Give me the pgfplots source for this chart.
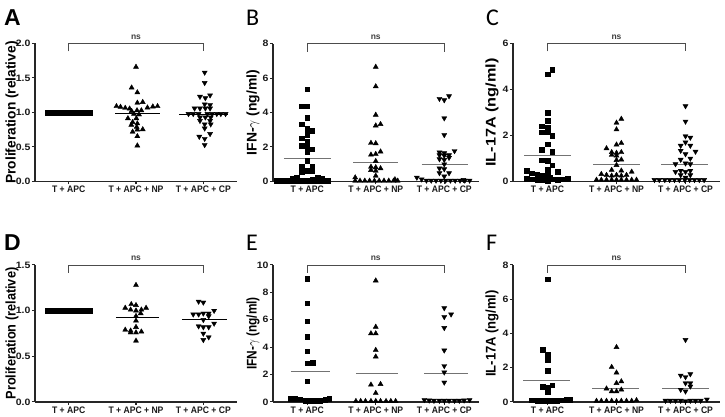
\documentclass[border=0pt]{standalone}
\usepackage{fontspec}
\setmainfont{Liberation Sans}
\newfontfamily\carlito{Carlito}
\usepackage{pgfplots}
\pgfplotsset{compat=1.18}

\tikzset{
  bracket/.style={line width=0.8pt, black!70},
  nslabel/.style={font=\bfseries\fontsize{8.5}{8.5}\selectfont, black!75, anchor=base},
}
\pgfplotsset{
  panel/.style={
    scale only axis, height=138pt,
    xmin=-0.5, xmax=2.5, ymin=0,
    axis x line*=bottom, axis y line*=left,
    axis line style={line width=1.1pt, black!85},
    xtick={0,1,2},
    xticklabels={T + APC, T + APC + NP, T + APC + CP},
    tick align=outside, major tick length=3pt,
    tick style={line width=1pt, black!85},
    /pgf/number format/assume math mode=true,
    ticklabel style={black!90},
    xticklabel style={font=\bfseries\fontsize{8.6}{8.6}\selectfont, yscale=1.1, inner sep=1.5pt},
    yticklabel style={font=\bfseries\fontsize{8.4}{8.4}\selectfont, inner sep=1pt, xscale=1.25, yscale=1.1},
    label style={font=\bfseries\fontsize{14}{14}\selectfont},
    clip=false,
  },
  sq/.style={only marks, mark=square*, mark size=2.3pt, black},
  up/.style={only marks, mark=triangle*, mark size=2.9pt, black},
  dn/.style={only marks, mark=triangle*, mark size=2.9pt, black, mark options={rotate=180}},
  mean/.style={no markers, line width=1pt, black!55},
  meanb/.style={no markers, line width=0.9pt, black},
}

\newcommand{\ns}[1]{%
  \draw[bracket] ([yshift=-8pt]axis cs:0,#1) -- (axis cs:0,#1) -- (axis cs:2,#1) -- ([yshift=-8pt]axis cs:2,#1);
  \node[nslabel] at ([yshift=4pt]axis cs:1,#1) {ns};
}

\begin{document}
\begin{tikzpicture}[x=1pt,y=1pt]
\path[use as bounding box] (0,0) rectangle (725,417);

% ---------------- A: proliferation, cohort 1 ----------------
\begin{axis}[panel, at={(35pt,235.5pt)}, anchor=south west, width=202pt,
  ymax=2, ytick={0,0.5,1,1.5,2},
  yticklabel style={/pgf/number format/.cd, fixed, fixed zerofill, precision=1},
  ylabel={\scalebox{0.984}[1]{Proliferation (relative)}},
  ylabel style={at={(axis description cs:-0.114,0.5)}, anchor=center}]
\addplot[sq] table {
x y
-0.31 1
-0.28 1
-0.25 1
-0.22 1
-0.19 1
-0.16 1
-0.13 1
-0.10 1
-0.07 1
-0.04 1
-0.01 1
0.02 1
0.05 1
0.08 1
0.11 1
0.14 1
0.17 1
0.20 1
0.23 1
0.26 1
0.29 1
0.32 1
};
\addplot[up] table {
x y
1.00 1.66
0.935 1.36
1.02 1.29
1.02 1.14
1.10 1.15
0.71 1.09
0.77 1.08
0.84 1.065
0.905 1.055
1.25 1.085
1.32 1.09
1.17 1.07
0.935 1.02
1.015 1.03
1.08 1.03
0.97 0.98
1.045 0.97
0.88 0.915
1.005 0.915
0.95 0.86
1.02 0.84
0.93 0.82
1.01 0.79
0.95 0.72
1.02 0.75
1.10 0.755
1.02 0.655
1.02 0.52
};
\addplot[meanb] coordinates {(0.69,0.99) (1.36,0.99)};
\addplot[dn] table {
x y
2.02 1.58
2.02 1.43
1.95 1.23
2.03 1.21
2.10 1.25
2.02 1.12
2.10 1.11
1.87 1.06
1.95 1.06
2.03 1.06
2.10 1.06
1.78 0.98
1.85 0.98
1.93 0.98
2.06 0.98
2.13 0.98
2.20 0.98
2.26 0.98
2.33 0.98
1.95 0.93
2.03 0.93
2.11 0.93
1.95 0.88
2.10 0.88
2.02 0.83
2.11 0.83
2.02 0.77
2.10 0.69
1.94 0.65
2.02 0.62
2.02 0.53
};
\addplot[meanb] coordinates {(1.64,0.978) (2.36,0.978)};
\ns{2}
\end{axis}

% ---------------- B: IFN-gamma, cohort 1 ----------------
\begin{axis}[panel, at={(273pt,235.5pt)}, anchor=south west, width=205.5pt,
  ymax=8, ytick={0,2,4,6,8},
  ylabel={\scalebox{0.994}[1]{IFN-$\gamma$ (ng/ml)}},
  ylabel style={at={(axis description cs:-0.097,0.5)}, anchor=center}]
\addplot[sq] table {
x y
0.00 5.34
-0.08 4.37
0.00 4.37
0.00 3.71
-0.08 3.32
0.00 3.07
0.07 2.93
-0.08 2.50
0.00 2.70
0.00 2.31
-0.08 2.06
0.00 2.00
0.07 1.88
0.00 1.69
0.00 1.20
-0.08 0.87
0.07 0.87
-0.08 0.56
0.00 0.62
0.07 0.62
-0.15 0.23
-0.22 0.17
0.15 0.23
0.22 0.17
0.07 0.13
-0.45 0.04
-0.37 0.04
-0.30 0.04
-0.22 0.04
-0.15 0.04
-0.07 0.04
0.00 0.04
0.07 0.04
0.15 0.04
0.22 0.04
0.30 0.04
};
\addplot[mean] coordinates {(-0.34,1.34) (0.34,1.34)};
\addplot[up] table {
x y
1.00 6.64
1.00 5.51
1.00 3.86
1.00 3.24
1.07 3.32
0.93 2.23
1.00 2.21
1.07 1.73
0.93 1.55
1.00 1.59
1.00 1.18
0.93 0.85
1.00 0.82
1.07 0.76
0.93 0.66
1.00 0.62
1.00 0.33
0.70 0.23
1.28 0.12
0.70 0.04
0.77 0.04
0.84 0.04
0.91 0.04
0.98 0.04
1.05 0.04
1.12 0.04
1.19 0.04
1.26 0.04
1.32 0.04
};
\addplot[mean] coordinates {(0.67,1.09) (1.33,1.09)};
\addplot[dn] table {
x y
1.93 4.80
2.00 4.72
2.07 4.95
2.00 3.67
2.00 2.70
1.93 1.69
2.00 1.65
2.15 1.77
1.93 1.53
2.00 1.50
2.07 1.53
1.93 1.30
2.00 1.26
2.07 1.38
2.00 1.00
1.93 0.76
2.00 0.72
1.93 0.49
2.07 0.49
2.00 0.30
1.60 0.23
1.67 0.13
2.28 0.10
1.74 0.06
1.81 0.06
1.88 0.06
1.95 0.06
2.02 0.06
2.09 0.06
2.16 0.06
2.23 0.06
2.30 0.06
2.37 0.06
};
\addplot[mean] coordinates {(1.67,1.01) (2.34,1.01)};
\ns{8}
\end{axis}

% ---------------- C: IL-17A, cohort 1 ----------------
\begin{axis}[panel, at={(513pt,235.5pt)}, anchor=south west, width=207pt,
  ymax=6, ytick={0,2,4,6},
  ylabel={\scalebox{1.16}[1]{IL-17A (ng/ml)}},
  ylabel style={at={(axis description cs:-0.101,0.5)}, anchor=center}]
\addplot[sq] table {
x y
0.07 4.85
0.00 4.67
0.00 3.00
0.00 2.64
-0.08 2.40
0.00 2.33
-0.08 2.14
0.00 2.14
0.07 2.00
0.00 1.63
-0.08 1.38
0.07 1.30
-0.08 0.93
0.00 0.90
0.07 0.71
0.00 0.50
-0.30 0.47
-0.23 0.36
-0.15 0.32
0.145 0.42
-0.08 0.25
0.00 0.25
-0.30 0.13
-0.23 0.10
-0.15 0.07
-0.08 0.07
0.07 0.10
0.145 0.07
0.22 0.10
0.29 0.13
0.00 0.02
0.04 0.17
};
\addplot[mean] coordinates {(-0.34,1.15) (0.34,1.15)};
\addplot[up] table {
x y
1.07 2.72
1.00 2.55
1.00 2.26
1.07 1.67
1.00 1.60
0.855 1.44
0.93 1.27
1.00 1.24
1.07 1.27
0.93 1.15
1.00 1.12
1.00 0.93
1.07 0.95
1.00 0.71
0.93 0.50
1.07 0.47
1.22 0.42
0.78 0.32
0.855 0.28
0.93 0.25
1.00 0.28
1.07 0.25
1.145 0.28
0.71 0.07
0.78 0.07
0.855 0.07
0.93 0.07
1.00 0.07
1.07 0.07
1.145 0.07
1.22 0.07
1.29 0.07
};
\addplot[mean] coordinates {(0.66,0.76) (1.34,0.76)};
\addplot[dn] table {
x y
2.00 3.28
2.00 2.61
2.00 1.97
2.07 1.91
2.00 1.70
1.93 1.56
2.07 1.56
1.93 1.34
2.145 1.30
2.00 1.19
2.07 1.00
1.93 0.95
2.00 0.79
1.855 0.76
2.07 0.76
1.855 0.42
1.93 0.47
2.00 0.42
2.07 0.47
1.93 0.28
2.07 0.28
2.00 0.17
1.55 0.07
1.62 0.07
1.70 0.07
1.77 0.07
1.84 0.07
1.91 0.07
1.99 0.07
2.06 0.07
2.13 0.07
2.20 0.07
2.27 0.07
};
\addplot[mean] coordinates {(1.65,0.73) (2.32,0.73)};
\ns{6}
\end{axis}

% ---------------- D: proliferation, cohort 2 ----------------
\begin{axis}[panel, at={(35pt,15pt)}, anchor=south west, width=202pt, height=137pt,
  ymax=1.5, ytick={0,0.5,1,1.5},
  yticklabel style={/pgf/number format/.cd, fixed, fixed zerofill, precision=1},
  ylabel={\scalebox{0.91}[1]{Proliferation (relative)}},
  ylabel style={at={(axis description cs:-0.114,0.5)}, anchor=center}]
\addplot[sq] table {
x y
-0.32 1
-0.29 1
-0.26 1
-0.23 1
-0.20 1
-0.17 1
-0.14 1
-0.11 1
-0.08 1
-0.05 1
-0.02 1
0.01 1
0.04 1
0.07 1
0.10 1
0.13 1
0.16 1
0.19 1
0.22 1
0.25 1
0.28 1
0.31 1
};
\addplot[up] table {
x y
1.00 1.28
0.93 1.07
1.00 1.06
0.84 1.03
0.92 1.01
1.00 1.00
1.08 1.01
1.15 1.03
1.07 0.97
1.00 0.94
1.00 0.89
1.00 0.82
0.84 0.79
0.92 0.78
0.92 0.76
1.00 0.76
1.08 0.77
1.00 0.67
};
\addplot[meanb] coordinates {(0.70,0.93) (1.34,0.93)};
\addplot[dn] table {
x y
1.93 1.10
2.00 1.09
2.16 1.00
1.85 0.96
1.93 0.96
2.00 0.97
2.08 0.97
2.08 0.94
2.00 0.90
2.16 0.86
1.93 0.83
2.00 0.82
2.08 0.82
2.00 0.75
2.00 0.68
2.08 0.71
};
\addplot[meanb] coordinates {(1.68,0.90) (2.35,0.90)};
\ns{1.5}
\end{axis}

% ---------------- E: IFN-gamma, cohort 2 ----------------
\begin{axis}[panel, at={(273pt,15pt)}, anchor=south west, width=205.5pt, height=137pt,
  ymax=10, ytick={0,2,4,6,8,10},
  ylabel={\scalebox{0.845}[1]{IFN-$\gamma$ (ng/ml)}},
  ylabel style={at={(axis description cs:-0.097,0.5)}, anchor=center}]
\addplot[sq] table {
x y
0.00 8.99
0.00 7.22
0.00 5.89
0.00 4.78
0.00 3.70
0.00 2.83
0.08 2.85
0.00 1.52
-0.24 0.24
-0.18 0.24
-0.11 0.19
-0.03 0.10
0.04 0.10
0.11 0.10
0.19 0.10
0.26 0.17
0.32 0.24
};
\addplot[mean] coordinates {(-0.24,2.25) (0.33,2.25)};
\addplot[up] table {
x y
1.00 8.86
1.00 5.48
0.93 5.00
1.00 5.00
1.00 3.79
1.00 3.31
0.93 1.26
1.07 1.30
1.00 0.65
0.71 0.06
0.78 0.06
0.85 0.06
0.93 0.06
1.00 0.06
1.07 0.06
1.15 0.06
1.22 0.06
1.29 0.06
};
\addplot[mean] coordinates {(0.71,2.05) (1.33,2.05)};
\addplot[dn] table {
x y
2.00 6.86
2.00 6.21
2.10 6.40
2.00 5.41
2.00 3.77
2.00 2.63
2.00 2.17
2.00 1.43
1.71 0.15
1.78 0.12
1.85 0.10
1.93 0.10
2.00 0.10
2.07 0.10
2.15 0.10
2.22 0.10
2.29 0.12
2.37 0.15
};
\addplot[mean] coordinates {(1.71,2.10) (2.34,2.10)};
\ns{10}
\end{axis}

% ---------------- F: IL-17A, cohort 2 ----------------
\begin{axis}[panel, at={(513pt,15pt)}, anchor=south west, width=207pt, height=137pt,
  ymax=8, ytick={0,2,4,6,8},
  ylabel={\scalebox{0.93}[1]{IL-17A (ng/ml)}},
  ylabel style={at={(axis description cs:-0.101,0.5)}, anchor=center}]
\addplot[sq] table {
x y
0.00 7.18
-0.07 3.05
0.00 2.76
0.00 2.47
0.00 1.83
-0.07 0.91
0.00 0.85
0.07 0.97
0.00 0.58
-0.23 0.10
-0.15 0.08
-0.08 0.08
-0.01 0.06
0.06 0.08
0.13 0.08
0.21 0.10
0.28 0.12
0.33 0.14
};
\addplot[mean] coordinates {(-0.35,1.24) (0.33,1.24)};
\addplot[up] table {
x y
1.00 3.20
0.93 2.04
1.00 1.71
1.07 1.20
1.00 1.10
0.855 0.78
0.93 0.62
1.00 0.62
1.07 0.72
0.71 0.06
0.78 0.06
0.855 0.06
0.93 0.06
1.00 0.04
1.07 0.06
1.145 0.06
1.22 0.06
1.29 0.10
};
\addplot[mean] coordinates {(0.65,0.76) (1.33,0.76)};
\addplot[dn] table {
x y
2.00 3.63
1.93 1.55
2.00 1.46
2.07 1.63
2.00 1.10
2.07 1.10
2.07 0.91
1.93 0.72
2.00 0.62
1.71 0.08
1.78 0.08
1.855 0.08
1.93 0.08
2.00 0.06
2.07 0.08
2.145 0.08
2.22 0.08
2.31 0.15
};
\addplot[mean] coordinates {(1.66,0.76) (2.34,0.76)};
\ns{8}
\end{axis}

% panel letters
\node[anchor=base west, inner sep=0, font=\bfseries\fontsize{23}{23}\selectfont] at (4,391) {A};
\node[anchor=base west, inner sep=0, font=\carlito\fontsize{24}{24}\selectfont] at (246,391) {B};
\node[anchor=base west, inner sep=0, font=\carlito\fontsize{24}{24}\selectfont] at (486,391) {C};
\node[anchor=base west, inner sep=0, font=\bfseries\fontsize{23}{23}\selectfont] at (4,166) {D};
\node[anchor=base west, inner sep=0, font=\carlito\fontsize{24}{24}\selectfont] at (246,166) {E};
\node[anchor=base west, inner sep=0, font=\carlito\fontsize{24}{24}\selectfont] at (486,166) {F};
\end{tikzpicture}
\end{document}
